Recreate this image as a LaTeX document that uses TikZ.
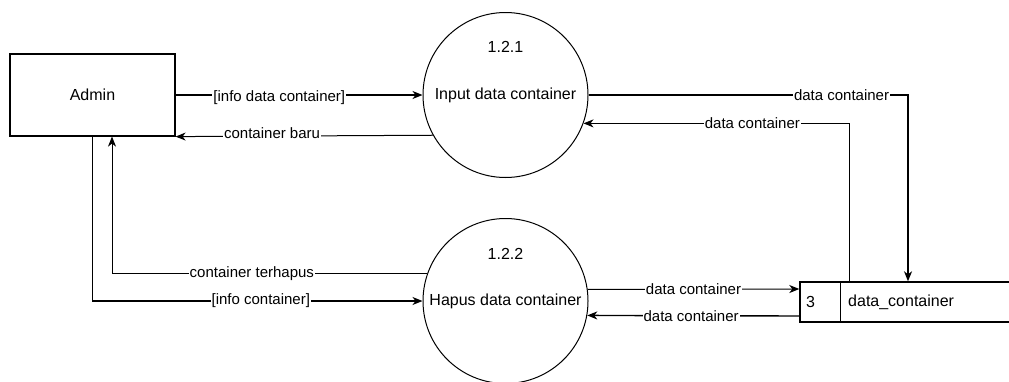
\documentclass[tikz,border=0pt]{standalone}
\usepackage{fontspec}
\setmainfont{Liberation Sans}
\usetikzlibrary{arrows.meta}
\begin{document}
\begin{tikzpicture}[x=1pt,y=-1pt,
  proc/.style={circle, draw, line width=1pt, minimum size=165pt, inner sep=0pt, font=\fontsize{16}{16}\selectfont},
  ent/.style={draw, line width=1.2pt, minimum width=165pt, minimum height=82pt, inner sep=0pt, font=\fontsize{16}{16}\selectfont},
  store/.style={draw, line width=1.4pt, minimum width=212pt, minimum height=40pt, inner sep=0pt},
  ttl/.style={font=\fontsize{16}{16}\selectfont, inner sep=0pt},
  thinflow/.style={line width=1pt, -{Stealth[length=10pt,width=8pt,inset=3pt]}},
  thickflow/.style={line width=1.4pt, -{Stealth[length=10pt,width=8pt,inset=3pt]}},
  lbl/.style={fill=white, inner sep=1pt, font=\fontsize{15}{15}\selectfont}
]
\useasboundingbox (0,0) rectangle (1009,381);

% nodes
\node[ent] (admin) at (92.5,95) {Admin};
\node[proc] (p1) at (505.5,95) {Input data container};
\node[ttl] (n1) at (505.5,47) {1.2.1};
\node[proc] (p2) at (505.5,301) {Hapus data container};
\node[ttl] (n2) at (505.5,254) {1.2.2};
\node[store] (ds) at (906,302) {};
\draw[line width=1.4pt] ([xshift=41pt]ds.north west) -- ([xshift=41pt]ds.south west);
\node[ttl, anchor=west] (dsid) at (806,302) {3};
\node[ttl, anchor=west] (dsname) at (848,302) {data\_container};

% connectors
\draw[thickflow] (admin.east) -- node[lbl, pos=0.42, yshift=-3pt] {[info data container]} (p1.west);
\draw[thinflow] (p1.209.8) -- node[lbl, pos=0.625, yshift=3pt] {container baru} (admin.south east);
\draw[thickflow] (p1.east) -| node[lbl, pos=0.396] {data container} ([xshift=2pt]ds.north);
\draw[thinflow] ([xshift=-57pt]ds.north) |- node[lbl, pos=0.682] {data container} (p1.340.2);
\draw[thickflow] (admin.south) |- node[lbl, pos=0.755] {[info container]} (p2.west);
\draw[thinflow] (p2.161.6) -| node[lbl, pos=0.278] {container terhapus} ([xshift=19.5pt]admin.south);
\draw[thinflow] (p2.8.4) -- node[lbl, pos=0.5] {data container} ([yshift=13pt]ds.west);
\draw[thickflow] ([yshift=-14pt]ds.west) -- node[lbl, pos=0.51] {data container} (p2.-10.5);
\end{tikzpicture}
\end{document}
